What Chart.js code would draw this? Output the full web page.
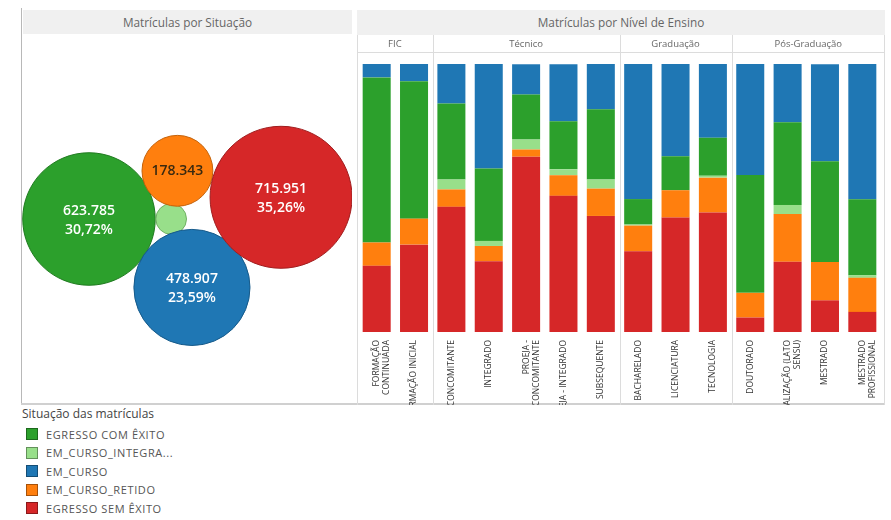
<!DOCTYPE html>
<html>
<head>
<meta charset="utf-8">
<script src="https://cdn.jsdelivr.net/npm/chart.js@4.4.1/dist/chart.umd.min.js"></script>
<style>
  body { margin: 0; width: 891px; height: 520px; background: #fff; font-family: "Open Sans", sans-serif; position: relative; overflow: hidden; }
  .hdr { position: absolute; background: #f0f0f0; color: #666; font-size: 11.8px; text-align: center; line-height: 24px; }
  .box { position: absolute; }
  #legend { position: absolute; left: 22px; top: 405px; font-size: 11px; color: #555; }
  #legend .title { color: #444; font-size: 12px; margin-bottom: 3px; }
  #legend .item { display: flex; align-items: center; height: 18.5px; letter-spacing: 0.6px; }
  #legend .sw { width: 10px; height: 10px; margin: 0 8px 0 4px; border: 1px solid rgba(0,0,0,0.35); }
</style>
</head>
<body>
<div style="position:absolute;left:21px;top:8px;width:1px;height:397px;background:#b8b8b8"></div>
<div style="position:absolute;left:21px;top:403px;width:864px;height:2px;background:#d0d0d0"></div>
<div class="hdr" style="left:23px;top:10px;width:329px;height:24px">Matrículas por Situação</div>
<div class="hdr" style="left:357px;top:10px;width:528px;height:25px">Matrículas por Nível de Ensino</div>
<div class="box" style="left:22px;top:35px;width:330px;height:368px"><canvas id="bubbles"></canvas></div>
<div class="box" style="left:357px;top:35px;width:528px;height:370px"><canvas id="bars"></canvas></div>
<div id="legend"></div>
<script>
// situação das matrículas
const situacoes = ['EGRESSO COM ÊXITO', 'EM_CURSO_INTEGRA...', 'EM_CURSO', 'EM_CURSO_RETIDO', 'EGRESSO SEM ÊXITO'];
const cores = ['#2ca02c', '#98df8a', '#1f77b4', '#ff7f0e', '#d62728'];
const bordas = ['#1f7a1f', '#6fb062', '#165a8a', '#c4620a', '#a01d1e'];

// bubble chart: totals + packed positions (0-100 units)
const totais = [623785, 33400, 478907, 178343, 715951];
const bolhaX = [20.3, 45.2, 51.5, 47.1, 78.5];
const bolhaY = [50.0, 50.0, 31.4, 63.1, 55.9];

// stacked 100% bars
const niveis = ['FIC', 'Técnico', 'Graduação', 'Pós-Graduação'];
const cursosPorNivel = [2, 5, 3, 4];
const cursos = [
  ['FORMAÇÃO', 'CONTINUADA'], 'FORMAÇÃO INICIAL', 'CONCOMITANTE', 'INTEGRADO',
  ['PROEJA -', 'CONCOMITANTE'], 'PROEJA - INTEGRADO', 'SUBSEQUENTE',
  'BACHARELADO', 'LICENCIATURA', 'TECNOLOGIA',
  'DOUTORADO', ['ESPECIALIZAÇÃO (LATO', 'SENSU)'], 'MESTRADO', ['MESTRADO', 'PROFISSIONAL']
];
const semExito = [24.7, 32.6, 46.7, 26.4, 65.4, 50.8, 43.3, 30.1, 42.7, 44.6, 5.4, 26.2, 11.8, 7.5];
const retido   = [8.7, 9.7, 6.5, 5.7, 2.7, 7.7, 10.2, 9.6, 10.2, 13.0, 9.2, 17.8, 14.3, 12.7];
const integra  = [0, 0, 3.7, 1.9, 3.7, 2.2, 3.4, 0.4, 0, 0.7, 0, 3.4, 0, 1.0];
const comExito = [61.6, 51.3, 28.4, 27.0, 16.8, 17.9, 26.2, 9.5, 12.7, 14.2, 44.0, 30.9, 37.6, 28.3];
const emCurso  = [5.0, 6.4, 14.7, 39.0, 11.3, 21.3, 16.9, 50.4, 34.4, 27.5, 41.5, 21.8, 36.2, 50.6];

const FONT = '"Open Sans", sans-serif';

// legend
const leg = document.getElementById('legend');
leg.innerHTML = '<div class="title">Situação das matrículas</div>' +
  situacoes.map((s, i) => `<div class="item"><span class="sw" style="background:${cores[i]}"></span>${s}</div>`).join('');

function milhar(n) {
  return String(n).replace(/\B(?=(\d{3})+(?!\d))/g, '.');
}

const total = totais.reduce((a, b) => a + b, 0);
const escala = 0.0839; // px of radius per sqrt(value)

const bubbleLabels = {
  id: 'bubbleLabels',
  afterDatasetsDraw(chart) {
    const ctx = chart.ctx;
    const meta = chart.getDatasetMeta(0);
    ctx.save();
    ctx.textAlign = 'center';
    ctx.textBaseline = 'middle';
    ctx.font = '600 14px ' + FONT;
    meta.data.forEach((pt, i) => {
      const r = pt.options.radius;
      if (r < 20) return;
      const pct = (totais[i] / total * 100).toFixed(2).replace('.', ',') + '%';
      if (r < 45) {
        ctx.fillStyle = '#3a2a10';
        ctx.fillText(milhar(totais[i]), pt.x, pt.y);
      } else {
        ctx.fillStyle = '#ffffff';
        ctx.fillText(milhar(totais[i]), pt.x, pt.y - 8);
        ctx.fillText(pct, pt.x, pt.y + 11);
      }
    });
    ctx.restore();
  }
};

new Chart(document.getElementById('bubbles'), {
  type: 'bubble',
  data: {
    datasets: [{
      data: totais.map((v, i) => ({ x: bolhaX[i], y: bolhaY[i], r: escala * Math.sqrt(v) })),
      backgroundColor: cores,
      borderColor: bordas,
      borderWidth: 1,
      clip: false,
    }],
  },
  options: {
    responsive: true,
    maintainAspectRatio: false,
    animation: false,
    layout: { padding: 0, autoPadding: false },
    scales: {
      x: { display: false, min: 0, max: 100 },
      y: { display: false, min: 0, max: 100 },
    },
    plugins: { legend: { display: false }, tooltip: { enabled: false } },
  },
  plugins: [bubbleLabels],
});

// group header row + separators
const groupHeaders = {
  id: 'groupHeaders',
  beforeDraw(chart) {
    const ctx = chart.ctx;
    const x = chart.scales.x;
    const h = chart.height;
    const rowH = 17;
    ctx.save();
    ctx.strokeStyle = '#dcdcdc';
    ctx.lineWidth = 1;
    ctx.beginPath();
    ctx.moveTo(0, rowH + 0.5);
    ctx.lineTo(chart.width, rowH + 0.5);
    ctx.stroke();
    ctx.font = '9.5px ' + FONT;
    ctx.fillStyle = '#666';
    ctx.textAlign = 'center';
    ctx.textBaseline = 'middle';
    let start = 0;
    const edges = [0.5];
    niveis.forEach((n, gi) => {
      const end = start + cursosPorNivel[gi];
      const x0 = gi === 0 ? 0 : x.getPixelForValue(start) - x.width / cursos.length / 2;
      const x1 = gi === niveis.length - 1 ? chart.width : x.getPixelForValue(end - 1) + x.width / cursos.length / 2;
      ctx.fillText(n, (x0 + x1) / 2, rowH / 2 + 1);
      if (gi > 0) edges.push(Math.round(x0) + 0.5);
      start = end;
    });
    edges.push(chart.width - 0.5);
    edges.forEach(ex => {
      ctx.beginPath();
      ctx.moveTo(ex, 0);
      ctx.lineTo(ex, h);
      ctx.stroke();
    });
    ctx.restore();
  }
};

const series = [
  { label: situacoes[4], data: semExito, color: cores[4] },
  { label: situacoes[3], data: retido, color: cores[3] },
  { label: situacoes[1], data: integra, color: cores[1] },
  { label: situacoes[0], data: comExito, color: cores[0] },
  { label: situacoes[2], data: emCurso, color: cores[2] },
];

new Chart(document.getElementById('bars'), {
  type: 'bar',
  data: {
    labels: cursos,
    datasets: series.map(s => ({
      label: s.label,
      data: s.data,
      backgroundColor: s.color,
      borderWidth: 0,
      barPercentage: 0.75,
      categoryPercentage: 1,
    })),
  },
  options: {
    responsive: true,
    maintainAspectRatio: false,
    animation: false,
    layout: { padding: { top: 29, left: 1, right: 4, bottom: 0 } },
    scales: {
      x: {
        stacked: true,
        grid: { display: false },
        border: { display: false },
        afterFit: scale => { scale.height = 73; },
        ticks: {
          minRotation: 90,
          maxRotation: 90,
          autoSkip: false,
          padding: 0,
          color: '#333',
          font: { family: FONT, size: 8.5 },
        },
      },
      y: { stacked: true, display: false, min: 0, max: 100 },
    },
    plugins: { legend: { display: false }, tooltip: { enabled: false } },
  },
  plugins: [groupHeaders],
});
</script>
</body>
</html>
